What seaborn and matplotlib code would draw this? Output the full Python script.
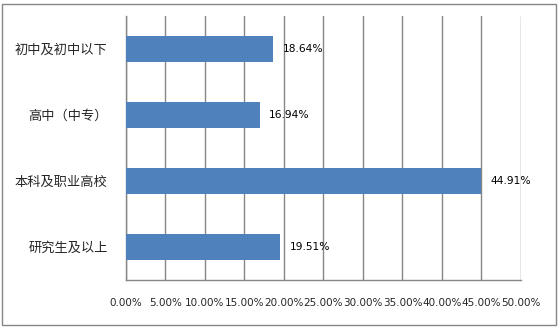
import matplotlib
matplotlib.use("Agg")
import matplotlib.pyplot as plt
import seaborn as sns
import pandas as pd
from matplotlib.patches import Rectangle
from matplotlib.ticker import FixedLocator

categories = ["初中及初中以下", "高中（中专）", "本科及职业高校", "研究生及以上"]
values = [18.64, 16.94, 44.91, 19.51]
xticks = [0, 5, 10, 15, 20, 25, 30, 35, 40, 45, 50]

sns.set_theme(style="white")
plt.rcParams['font.family'] = ['Noto Sans CJK SC', 'DejaVu Sans']

df = pd.DataFrame({"cat": categories, "val": values})

fig = plt.figure(figsize=(5.59, 3.28), dpi=100)
ax = fig.add_axes([125.7/559, 1-280/328, (521-125.7)/559, (280-16)/328])

sns.barplot(data=df, x="val", y="cat", orient="h", color="#4F81BD",
            width=0.4, saturation=1, ax=ax, zorder=3, linewidth=0, edgecolor="none")

ax.set_xlim(0, 50)
ax.set_ylim(3.5, -0.5)
ax.set_xlabel("")
ax.set_ylabel("")

ax.set_xticks(xticks)
ax.set_xticklabels([f"{t:.2f}%" for t in xticks], fontsize=7.5,
                   family=['DejaVu Sans'])
ax.xaxis.grid(True, color="#868686", linewidth=1, zorder=0)
ax.yaxis.grid(False)

ax.set_yticks(range(len(categories)))
ax.set_yticklabels(categories, fontsize=9.5)
ax.yaxis.set_minor_locator(FixedLocator([-0.5, 0.5, 1.5, 2.5, 3.5]))
ax.tick_params(axis="y", which="major", length=0, pad=13)
ax.tick_params(axis="y", which="minor", length=5, width=1, color="#868686", direction="out")
ax.tick_params(axis="x", which="major", length=5, width=1, color="#868686",
               direction="out", pad=8)

for s in ["top", "right"]:
    ax.spines[s].set_visible(False)
for s in ["left", "bottom"]:
    ax.spines[s].set_color("#868686")
    ax.spines[s].set_linewidth(1)

for i, v in enumerate(values):
    ax.annotate(f"{v:.2f}%", (v, i), xytext=(7, 0), textcoords="offset points",
                va="center", ha="left", fontsize=7.7, family=['DejaVu Sans'],
                color="black")

fig.patches.append(Rectangle((2/559, 3/328), 554/559, 321/328, transform=fig.transFigure,
                             fill=False, edgecolor="#868686", linewidth=1))

fig.savefig("out.png", dpi=100, facecolor="white")
